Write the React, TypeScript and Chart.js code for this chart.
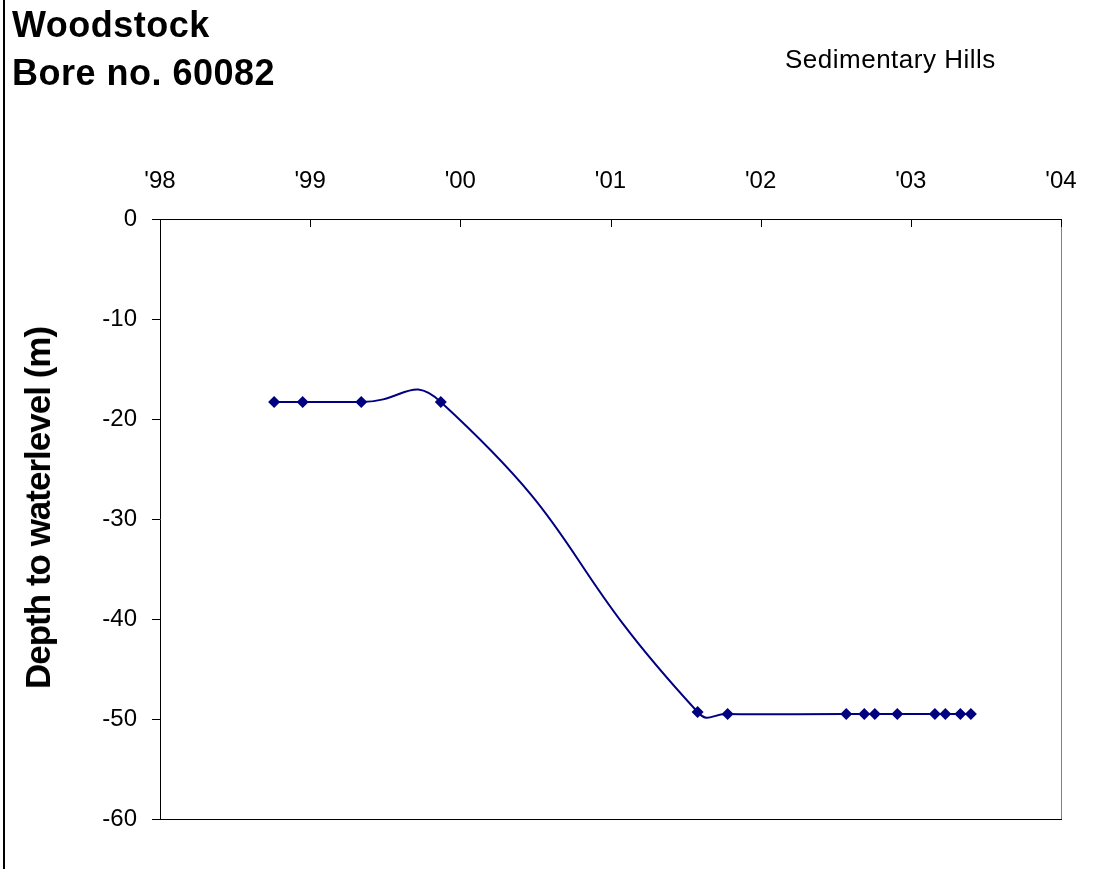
import React, { useEffect, useRef } from "react";
import { Chart, registerables } from "chart.js";

Chart.register(...registerables);

// Measurement dates (decimal years) and depth to water level (m)
const measurementYears = [
  1998.76, 1998.95, 1999.34, 1999.87, 2001.58, 2001.78, 2002.57, 2002.69,
  2002.76, 2002.91, 2003.16, 2003.23, 2003.33, 2003.4,
];
const depthValues = [
  -18.3, -18.3, -18.3, -18.3, -49.3, -49.5, -49.5, -49.5, -49.5, -49.5, -49.5,
  -49.5, -49.5, -49.5,
];
const yearTicks = [1998, 1999, 2000, 2001, 2002, 2003, 2004];
const yearTickLabels = ["'98", "'99", "'00", "'01", "'02", "'03", "'04"];
const depthTicks = [0, -10, -20, -30, -40, -50, -60];

const titleLines = ["Woodstock", "Bore no. 60082"];
const subtitleText = "Sedimentary Hills";
const yAxisTitle = "Depth to waterlevel (m)";

const FONT = '"Liberation Sans", Arial, Helvetica, sans-serif';
const NAVY = "#000080";

const framePlugin = {
  id: "frame",
  beforeDatasetsDraw(chart: any) {
    const { ctx, chartArea: a, scales } = chart;
    ctx.save();
    ctx.lineWidth = 1;
    // right edge (grey)
    ctx.strokeStyle = "#808080";
    ctx.beginPath();
    ctx.moveTo(Math.round(a.right) + 0.5, a.top);
    ctx.lineTo(Math.round(a.right) + 0.5, a.bottom);
    ctx.stroke();
    // bottom edge
    ctx.strokeStyle = "#000";
    ctx.beginPath();
    ctx.moveTo(a.left, Math.round(a.bottom) + 0.5);
    ctx.lineTo(a.right + 1, Math.round(a.bottom) + 0.5);
    ctx.stroke();
    // inside tick marks on the top axis
    const xs = scales.x;
    ctx.beginPath();
    yearTicks.forEach((v) => {
      const px = Math.round(xs.getPixelForValue(v)) + 0.5;
      ctx.moveTo(px, a.top);
      ctx.lineTo(px, a.top + 8);
    });
    ctx.stroke();
    ctx.restore();
  },
};

export default function App() {
  const canvasRef = useRef<HTMLCanvasElement | null>(null);

  useEffect(() => {
    if (!canvasRef.current) return;
    const data = measurementYears.map((x, i) => ({ x, y: depthValues[i] }));
    const chart = new Chart(canvasRef.current, {
      type: "line",
      data: {
        datasets: [
          {
            data,
            borderColor: NAVY,
            backgroundColor: NAVY,
            borderWidth: 2,
            pointStyle: "rectRot",
            pointRadius: 6,
            pointBorderWidth: 0,
            pointBackgroundColor: NAVY,
            pointBorderColor: NAVY,
            tension: 0.55,
            fill: false,
          },
        ],
      },
      options: {
        animation: false,
        responsive: false,
        maintainAspectRatio: false,
        layout: { padding: { left: 100, top: 159, right: 40, bottom: 50 } },
        plugins: {
          legend: { display: false },
          tooltip: { enabled: false },
          title: { display: false },
        },
        scales: {
          x: {
            type: "linear",
            position: "top",
            min: 1998,
            max: 2004,
            afterBuildTicks: (s: any) => {
              s.ticks = yearTicks.map((v) => ({ value: v }));
            },
            afterFit: (s: any) => {
              s.height = 60;
            },
            ticks: {
              autoSkip: false,
              maxRotation: 0,
              padding: 23,
              color: "#000",
              font: { family: FONT, size: 24 },
              callback: (v: any) => {
                const i = yearTicks.indexOf(Number(v));
                return i >= 0 ? yearTickLabels[i] : "";
              },
            },
            grid: { display: false, drawTicks: false },
            border: { display: true, color: "#000", width: 1 },
          },
          y: {
            type: "linear",
            min: -60,
            max: 0,
            afterBuildTicks: (s: any) => {
              s.ticks = depthTicks.map((v) => ({ value: v }));
            },
            afterFit: (s: any) => {
              s.width = 60;
            },
            ticks: {
              autoSkip: false,
              padding: 15,
              color: "#000",
              font: { family: FONT, size: 24 },
              callback: (v: any) => String(v),
            },
            grid: {
              display: true,
              drawOnChartArea: false,
              drawTicks: true,
              tickLength: 8,
              color: "#000",
              lineWidth: 1,
            },
            border: { display: true, color: "#000", width: 1 },
          },
        },
      },
      plugins: [framePlugin],
    });
    return () => chart.destroy();
  }, []);

  return (
    <div
      style={{
        position: "fixed",
        left: 0,
        top: 0,
        width: 1101,
        height: 869,
        background: "#fff",
        overflow: "hidden",
      }}
    >
      <canvas
        ref={canvasRef}
        width={1101}
        height={869}
        style={{ position: "absolute", left: 0, top: 0, width: 1101, height: 869 }}
      />
      <div
        style={{
          position: "absolute",
          left: 3,
          top: 0,
          width: 2,
          height: 869,
          background: "#000",
        }}
      />
      <div
        style={{
          position: "absolute",
          left: 12,
          top: 1,
          fontFamily: FONT,
          fontWeight: "bold",
          fontSize: 36,
          lineHeight: "48px",
          letterSpacing: "0.5px",
          color: "#000",
          whiteSpace: "nowrap",
        }}
      >
        {titleLines.map((t) => (
          <div key={t}>{t}</div>
        ))}
      </div>
      <div
        style={{
          position: "absolute",
          left: 785,
          top: 46,
          fontFamily: FONT,
          fontSize: 26,
          lineHeight: "26px",
          letterSpacing: "0.5px",
          color: "#000",
          whiteSpace: "nowrap",
        }}
      >
        {subtitleText}
      </div>
      <div
        style={{
          position: "absolute",
          left: 38,
          top: 508,
          transform: "translate(-50%, -50%) rotate(-90deg)",
          fontFamily: FONT,
          fontWeight: "bold",
          fontSize: 35,
          lineHeight: "40px",
          letterSpacing: "-1px",
          color: "#000",
          whiteSpace: "nowrap",
        }}
      >
        {yAxisTitle}
      </div>
    </div>
  );
}
